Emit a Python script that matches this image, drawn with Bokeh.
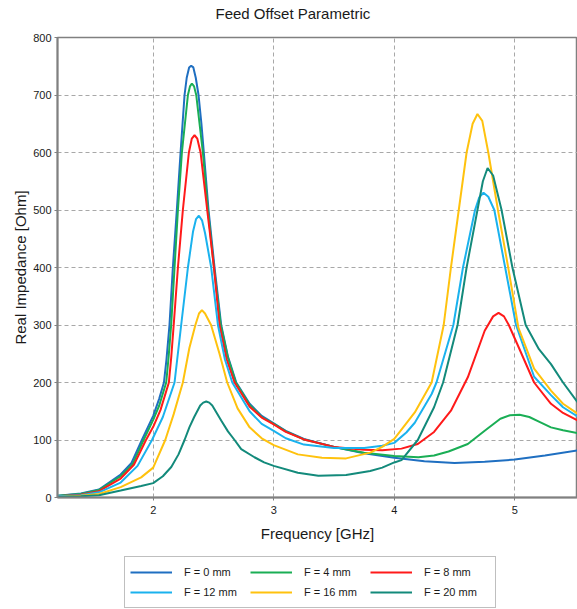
from bokeh.plotting import figure
from bokeh.models import Legend, LegendItem, Range1d, FixedTicker, Title
from bokeh.layouts import column
from bokeh.embed import file_html
from bokeh.resources import INLINE

labels = ["F = 0 mm", "F = 4 mm", "F = 8 mm", "F = 12 mm", "F = 16 mm", "F = 20 mm"]
colors = ["#1F6FC1", "#1AAE55", "#FF1A1A", "#1AB2EE", "#FFC20E", "#138A7B"]

f0_f = [1.21, 1.4, 1.55, 1.73, 1.82, 1.906, 2.0, 2.05, 2.089, 2.11, 2.135, 2.163, 2.196, 2.227, 2.26,
        2.278, 2.298, 2.315, 2.333, 2.353, 2.376, 2.4, 2.42, 2.459, 2.509, 2.564, 2.62, 2.689, 2.8,
        2.9, 3.0, 3.1, 3.25, 3.5, 3.75, 4.0, 4.25, 4.5, 4.75, 5.0, 5.25, 5.52]
f0_v = [3, 7, 14, 40, 60, 100, 142, 172, 200, 240, 300, 400, 500, 600, 700,
        730, 748, 751, 748, 730, 700, 650, 600, 500, 400, 300, 245, 200, 163,
        142, 129, 116, 102, 88, 77, 69, 63, 60, 62, 66, 73, 82]

f4_f = [1.21, 1.4, 1.55, 1.73, 1.83, 1.92, 2.0, 2.05, 2.108, 2.128, 2.149, 2.177, 2.205, 2.238, 2.288,
        2.305, 2.321, 2.339, 2.357, 2.412, 2.454, 2.504, 2.56, 2.62, 2.685, 2.8, 2.9, 3.0, 3.1, 3.25,
        3.5, 3.75, 4.0, 4.2, 4.33, 4.45, 4.61, 4.75, 4.88, 4.96, 5.04, 5.12, 5.2, 5.3, 5.4, 5.52]
f4_v = [3, 6, 13, 37, 58, 100, 135, 160, 200, 245, 300, 400, 500, 600, 700,
        715, 720, 715, 700, 600, 500, 400, 300, 243, 200, 161, 140, 128, 115, 101,
        88, 78, 72, 70, 73, 80, 93, 116, 137, 143, 144, 140, 132, 122, 117, 112]

f8_f = [1.21, 1.4, 1.55, 1.73, 1.84, 1.94, 2.0, 2.06, 2.13, 2.15, 2.17, 2.205, 2.246, 2.296, 2.32,
        2.343, 2.366, 2.393, 2.448, 2.504, 2.55, 2.61, 2.675, 2.8, 2.9, 3.0, 3.1, 3.25, 3.5, 3.75,
        3.9, 4.06, 4.195, 4.33, 4.47, 4.61, 4.75, 4.82, 4.865, 4.91, 4.95, 5.02, 5.16, 5.3, 5.4, 5.52]
f8_v = [2, 5, 11, 33, 57, 100, 123, 152, 200, 245, 300, 400, 500, 600, 624,
        630, 624, 600, 500, 400, 300, 240, 200, 158, 139, 127, 114, 101, 88, 83,
        82, 85, 93, 114, 151, 209, 290, 315, 321, 315, 300, 267, 200, 163, 147, 134]

f12_f = [1.21, 1.4, 1.55, 1.73, 1.87, 1.99, 2.08, 2.177, 2.232, 2.288, 2.33, 2.355, 2.379, 2.405, 2.43,
         2.481, 2.537, 2.595, 2.656, 2.8, 2.9, 3.0, 3.1, 3.25, 3.5, 3.75, 3.9, 4.0, 4.1, 4.17,
         4.31, 4.35, 4.49, 4.57, 4.67, 4.705, 4.74, 4.78, 4.83, 4.92, 5.01, 5.16, 5.3, 5.4, 5.52]
f12_v = [2, 4, 9, 26, 55, 100, 140, 200, 300, 400, 462, 484, 490, 482, 460,
         400, 300, 240, 200, 150, 128, 116, 103, 92, 86, 86, 90, 95, 113, 130,
         180, 200, 300, 400, 500, 522, 530, 523, 500, 400, 300, 210, 178, 157, 141]

f16_f = [1.21, 1.4, 1.55, 1.73, 1.9, 2.0, 2.1, 2.17, 2.246, 2.3, 2.35, 2.38, 2.404, 2.43, 2.48,
         2.55, 2.614, 2.7, 2.8, 2.9, 3.0, 3.2, 3.4, 3.6, 3.8, 3.9, 4.0, 4.17, 4.31, 4.41,
         4.47, 4.535, 4.6, 4.65, 4.69, 4.73, 4.78, 4.86, 4.945, 5.03, 5.16, 5.3, 5.4, 5.52]
f16_v = [1, 3, 6, 18, 35, 52, 100, 145, 200, 260, 300, 320, 326, 320, 300,
         250, 200, 155, 122, 103, 91, 75, 69, 68, 78, 88, 102, 148, 200, 300,
         400, 500, 600, 650, 667, 655, 600, 500, 400, 295, 224, 186, 163, 146]

f20_f = [1.21, 1.4, 1.55, 1.73, 1.9, 2.0, 2.08, 2.15, 2.21, 2.26, 2.3, 2.34, 2.39, 2.415, 2.44,
         2.465, 2.49, 2.564, 2.62, 2.675, 2.73, 2.84, 2.92, 3.0, 3.2, 3.37, 3.6, 3.8, 3.9, 4.0,
         4.06, 4.195, 4.33, 4.405, 4.525, 4.6, 4.69, 4.735, 4.774, 4.82, 4.89, 4.98, 5.09, 5.2, 5.3,
         5.4, 5.52]
f20_v = [1, 2, 4, 12, 20, 25, 37, 53, 75, 100, 122, 140, 160, 165, 167,
         165, 160, 134, 115, 100, 84, 70, 61, 55, 43, 38, 39, 46, 52, 61,
         65, 100, 157, 200, 300, 400, 500, 550, 573, 560, 500, 400, 300, 258, 232,
         200, 166]

x_ticks = [2, 3, 4, 5]
y_ticks = [0, 100, 200, 300, 400, 500, 600, 700, 800]

series = [(f0_f, f0_v), (f4_f, f4_v), (f8_f, f8_v), (f12_f, f12_v), (f16_f, f16_v), (f20_f, f20_v)]

FONT = "Liberation Sans"
TXT = "#1a1a1a"

p = figure(width=577, height=548, output_backend="svg", toolbar_location=None,
           x_range=Range1d(1.206, 5.52), y_range=Range1d(0, 800),
           min_border_left=57, min_border_right=0, min_border_top=37, min_border_bottom=51,
           title=None)
p.background_fill_color = "white"
p.border_fill_color = "white"
p.outline_line_color = "#808080"
p.outline_line_width = 1.5

# thin spacer panel between frame and title, then the title itself
p.add_layout(Title(text=" ", text_font_size="6px", standoff=6), "above")
p.add_layout(Title(text="Feed Offset Parametric", align="left", offset=158, standoff=4,
                   text_font=FONT, text_font_size="15px", text_font_style="normal",
                   text_color=TXT), "above")

p.xaxis.ticker = FixedTicker(ticks=x_ticks)
p.yaxis.ticker = FixedTicker(ticks=y_ticks)
p.xaxis.axis_label = "Frequency [GHz]"
p.yaxis.axis_label = "Real Impedance [Ohm]"
for ax in (p.xaxis, p.yaxis):
    ax.axis_line_color = "#808080"
    ax.axis_line_width = 2
    ax.major_tick_line_color = "#808080"
    ax.major_tick_in = 0
    ax.major_tick_out = 3
    ax.minor_tick_line_color = None
    ax.major_label_text_font = FONT
    ax.major_label_text_font_size = "11px"
    ax.major_label_text_color = TXT
    ax.axis_label_text_font = FONT
    ax.axis_label_text_font_size = "15px"
    ax.axis_label_text_font_style = "normal"
    ax.axis_label_text_color = TXT
p.xaxis.major_label_standoff = 5
p.xaxis.axis_label_standoff = 8
p.yaxis.major_label_standoff = 3
p.yaxis.axis_label_standoff = 1

for g in (p.xgrid, p.ygrid):
    g.grid_line_color = "#a8a8a8"
    g.grid_line_dash = "4 3"
    g.grid_line_width = 1

for (fx, fy), c in zip(series, colors):
    p.line(fx, fy, line_color=c, line_width=2)

# legend panel underneath (separate canvas so it is not clipped);
# its lines use the same series but lie outside the visible range
q = figure(width=577, height=61, output_backend="svg", toolbar_location=None,
           x_range=Range1d(-2, -1), y_range=Range1d(-2, -1),
           min_border_left=0, min_border_right=0, min_border_top=0, min_border_bottom=0,
           x_axis_type=None, y_axis_type=None)
q.outline_line_color = None
q.background_fill_color = "white"
q.border_fill_color = "white"
q.grid.visible = False
leg_renderers = [q.line(fx, fy, line_color=c, line_width=2) for (fx, fy), c in zip(series, colors)]
items = [LegendItem(label=l, renderers=[r]) for l, r in zip(labels, leg_renderers)]
legend = Legend(items=items, orientation="horizontal", ncols=3, location=(67, 1),
                padding=5, spacing=0, margin=0, glyph_width=42, glyph_height=20,
                label_standoff=12, label_width=66, label_height=20,
                label_text_font=FONT, label_text_font_size="11px", label_text_color=TXT,
                border_line_color="#808080", border_line_width=1.5,
                background_fill_color="white")
q.add_layout(legend, "center")

layout = column(p, q, spacing=0)
open("out.html", "w").write(file_html(layout, INLINE))
